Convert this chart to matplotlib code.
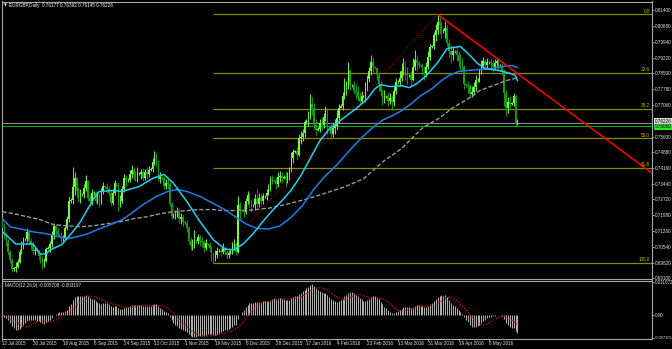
import numpy as np
import pandas as pd
import matplotlib
matplotlib.use("Agg")
import matplotlib.pyplot as plt
import matplotlib.transforms as mtransforms

# EURGBP daily bars, 12 Jul 2015 .. 25 May 2016 (one row per week, Sunday bars included).
closes = [
  0.7150, 0.7105, 0.7075, 0.7030, 0.6995, 0.6950,
  0.6955, 0.6960, 0.6985, 0.7030, 0.7060, 0.7085,
  0.7090, 0.7120, 0.7080, 0.7065, 0.7035, 0.7040,
  0.7035, 0.7010, 0.7000, 0.6970, 0.6990, 0.7045,
  0.7050, 0.7065, 0.7110, 0.7150, 0.7125, 0.7115,
  0.7110, 0.7090, 0.7095, 0.7140, 0.7180, 0.7265,
  0.7270, 0.7330, 0.7370, 0.7310, 0.7285, 0.7290,
  0.7295, 0.7325, 0.7355, 0.7280, 0.7265, 0.7300,
  0.7300, 0.7265, 0.7290, 0.7260, 0.7310, 0.7335,
  0.7330, 0.7320, 0.7300, 0.7255, 0.7300, 0.7345,
  0.7340, 0.7255, 0.7265, 0.7320, 0.7370, 0.7360,
  0.7360, 0.7390, 0.7405, 0.7385, 0.7380, 0.7390,
  0.7390, 0.7395, 0.7370, 0.7395, 0.7390, 0.7405,
  0.7410, 0.7445, 0.7475, 0.7440, 0.7365, 0.7375,
  0.7370, 0.7335, 0.7345, 0.7340, 0.7250, 0.7195,
  0.7200, 0.7205, 0.7215, 0.7180, 0.7190, 0.7170,
  0.7165, 0.7140, 0.7080, 0.7060, 0.7065, 0.7085,
  0.7080, 0.7100, 0.7080, 0.7075, 0.7050, 0.7070,
  0.7065, 0.7050, 0.7020, 0.7000, 0.7015, 0.7035,
  0.7035, 0.7030, 0.7050, 0.7030, 0.7015, 0.7025,
  0.7030, 0.7060, 0.7065, 0.7030, 0.7245, 0.7225,
  0.7220, 0.7215, 0.7265, 0.7290, 0.7260, 0.7240,
  0.7245, 0.7275, 0.7250, 0.7280, 0.7265, 0.7285,
  0.7285, 0.7300, 0.7320, 0.7365, 0.7360, 0.7358,
  0.7340, 0.7375, 0.7380, 0.7370,
  0.7375, 0.7365, 0.7375, 0.7405, 0.7460, 0.7490,
  0.7492, 0.7475, 0.7555, 0.7560, 0.7575, 0.7625,
  0.7630, 0.7650, 0.7710, 0.7690, 0.7615, 0.7590,
  0.7595, 0.7620, 0.7615, 0.7650, 0.7680, 0.7605,
  0.7600, 0.7570, 0.7600, 0.7610, 0.7645, 0.7690,
  0.7700, 0.7745, 0.7790, 0.7790, 0.7860, 0.7795,
  0.7795, 0.7770, 0.7765, 0.7740, 0.7725, 0.7745,
  0.7745, 0.7790, 0.7825, 0.7860, 0.7900, 0.7880,
  0.7875, 0.7840, 0.7800, 0.7765, 0.7730, 0.7745,
  0.7745, 0.7725, 0.7735, 0.7720, 0.7770, 0.7810,
  0.7810, 0.7830, 0.7860, 0.7880, 0.7850, 0.7840,
  0.7840, 0.7820, 0.7880, 0.7910, 0.7895, 0.7890,
  0.7885, 0.7860, 0.7850, 0.7880, 0.7925, 0.7970,
  0.7975, 0.8025, 0.8050, 0.8085, 0.8070, 0.8045,
  0.8045, 0.8060, 0.7990, 0.7950, 0.7935, 0.7950,
  0.7950, 0.7935, 0.7905, 0.7895, 0.7880, 0.7800,
  0.7795, 0.7790, 0.7755, 0.7765, 0.7785, 0.7820,
  0.7820, 0.7860, 0.7885, 0.7905, 0.7890, 0.7900,
  0.7900, 0.7895, 0.7880, 0.7895, 0.7905, 0.7885,
  0.7885, 0.7860, 0.7760, 0.7690, 0.7720, 0.7710,
  0.7712, 0.7745, 0.76177, 0.76226]

highs = [
  0.7185, 0.7165, 0.7120, 0.7090, 0.7040, 0.7005,
  0.6962, 0.6985, 0.7000, 0.7045, 0.7080, 0.7100,
  0.7095, 0.7140, 0.7125, 0.7095, 0.7075, 0.7060,
  0.7042, 0.7040, 0.7025, 0.7010, 0.7005, 0.7055,
  0.7058, 0.7080, 0.7125, 0.7165, 0.7160, 0.7140,
  0.7118, 0.7120, 0.7110, 0.7150, 0.7195, 0.7285,
  0.7280, 0.7418, 0.7395, 0.7375, 0.7330, 0.7320,
  0.7300, 0.7340, 0.7385, 0.7360, 0.7295, 0.7320,
  0.7308, 0.7310, 0.7305, 0.7300, 0.7325, 0.7350,
  0.7338, 0.7345, 0.7335, 0.7310, 0.7320, 0.7360,
  0.7348, 0.7350, 0.7290, 0.7335, 0.7390, 0.7385,
  0.7368, 0.7405, 0.7430, 0.7420, 0.7400, 0.7420,
  0.7398, 0.7410, 0.7415, 0.7410, 0.7420, 0.7425,
  0.7418, 0.7460, 0.7495, 0.7485, 0.7450, 0.7395,
  0.7378, 0.7380, 0.7365, 0.7365, 0.7350, 0.7260,
  0.7208, 0.7225, 0.7235, 0.7230, 0.7210, 0.7205,
  0.7175, 0.7175, 0.7150, 0.7100, 0.7090, 0.7130,
  0.7088, 0.7115, 0.7110, 0.7100, 0.7085, 0.7090,
  0.7072, 0.7075, 0.7060, 0.7030, 0.7040, 0.7055,
  0.7042, 0.7050, 0.7070, 0.7060, 0.7040, 0.7040,
  0.7038, 0.7075, 0.7090, 0.7075, 0.7285, 0.7260,
  0.7228, 0.7250, 0.7280, 0.7310, 0.7300, 0.7275,
  0.7252, 0.7295, 0.7320, 0.7300, 0.7300, 0.7300,
  0.7292, 0.7320, 0.7340, 0.7380, 0.7385, 0.7365,
  0.7375, 0.7395, 0.7400, 0.7395,
  0.7382, 0.7400, 0.7395, 0.7420, 0.7490, 0.7505,
  0.7500, 0.7510, 0.7570, 0.7585, 0.7595, 0.7635,
  0.7640, 0.7675, 0.7755, 0.7740, 0.7715, 0.7640,
  0.7602, 0.7640, 0.7650, 0.7670, 0.7700, 0.7690,
  0.7608, 0.7620, 0.7620, 0.7640, 0.7680, 0.7710,
  0.7710, 0.7765, 0.7830, 0.7815, 0.7900, 0.7870,
  0.7802, 0.7815, 0.7800, 0.7790, 0.7765, 0.7770,
  0.7752, 0.7810, 0.7840, 0.7880, 0.7932, 0.7925,
  0.7882, 0.7880, 0.7855, 0.7815, 0.7780, 0.7775,
  0.7752, 0.7765, 0.7760, 0.7750, 0.7790, 0.7830,
  0.7818, 0.7860, 0.7895, 0.7920, 0.7905, 0.7880,
  0.7848, 0.7860, 0.7920, 0.7955, 0.7935, 0.7905,
  0.7892, 0.7895, 0.7885, 0.7900, 0.7950, 0.7985,
  0.7982, 0.8040, 0.8075, 0.8120, 0.8110, 0.8085,
  0.8052, 0.8090, 0.8070, 0.8005, 0.7985, 0.7975,
  0.7958, 0.7975, 0.7950, 0.7940, 0.7920, 0.7890,
  0.7802, 0.7815, 0.7800, 0.7790, 0.7810, 0.7840,
  0.7828, 0.7875, 0.7910, 0.7925, 0.7915, 0.7920,
  0.7908, 0.7920, 0.7910, 0.7915, 0.7925, 0.7915,
  0.7892, 0.7895, 0.7870, 0.7775, 0.7740, 0.7745,
  0.7720, 0.7760, 0.7750, 0.76392]

lows = [
  0.7140, 0.7090, 0.7060, 0.7015, 0.6980, 0.6940,
  0.6945, 0.6938, 0.6955, 0.6980, 0.7020, 0.7045,
  0.7080, 0.7075, 0.7065, 0.7040, 0.7020, 0.7015,
  0.7030, 0.6995, 0.6980, 0.6950, 0.6960, 0.6985,
  0.7042, 0.7030, 0.7055, 0.7090, 0.7110, 0.7100,
  0.7105, 0.7075, 0.7070, 0.7085, 0.7130, 0.7170,
  0.7255, 0.7250, 0.7290, 0.7280, 0.7260, 0.7255,
  0.7285, 0.7280, 0.7310, 0.7265, 0.7240, 0.7245,
  0.7292, 0.7255, 0.7250, 0.7235, 0.7250, 0.7295,
  0.7322, 0.7300, 0.7285, 0.7240, 0.7245, 0.7290,
  0.7330, 0.7218, 0.7235, 0.7255, 0.7305, 0.7335,
  0.7350, 0.7350, 0.7370, 0.7360, 0.7355, 0.7350,
  0.7382, 0.7365, 0.7355, 0.7360, 0.7365, 0.7375,
  0.7400, 0.7395, 0.7430, 0.7420, 0.7355, 0.7345,
  0.7362, 0.7320, 0.7320, 0.7320, 0.7240, 0.7180,
  0.7188, 0.7180, 0.7190, 0.7165, 0.7160, 0.7150,
  0.7155, 0.7120, 0.7065, 0.7040, 0.7040, 0.7050,
  0.7072, 0.7065, 0.7060, 0.7055, 0.7030, 0.7040,
  0.7058, 0.7030, 0.6990, 0.6982, 0.6990, 0.7005,
  0.7028, 0.7010, 0.7020, 0.7015, 0.7000, 0.7005,
  0.7022, 0.7020, 0.7040, 0.7015, 0.7025, 0.7180,
  0.7212, 0.7190, 0.7205, 0.7250, 0.7235, 0.7215,
  0.7238, 0.7225, 0.7235, 0.7235, 0.7245, 0.7250,
  0.7278, 0.7270, 0.7290, 0.7310, 0.7340, 0.7350,
  0.7320, 0.7330, 0.7350, 0.7345,
  0.7365, 0.7330, 0.7345, 0.7360, 0.7395, 0.7440,
  0.7484, 0.7450, 0.7470, 0.7525, 0.7540, 0.7560,
  0.7618, 0.7610, 0.7640, 0.7660, 0.7595, 0.7565,
  0.7585, 0.7580, 0.7590, 0.7600, 0.7630, 0.7570,
  0.7592, 0.7550, 0.7560, 0.7570, 0.7590, 0.7620,
  0.7690, 0.7680, 0.7730, 0.7750, 0.7780, 0.7775,
  0.7788, 0.7755, 0.7730, 0.7725, 0.7712, 0.7715,
  0.7738, 0.7720, 0.7770, 0.7810, 0.7840, 0.7855,
  0.7868, 0.7820, 0.7770, 0.7745, 0.7705, 0.7715,
  0.7738, 0.7700, 0.7710, 0.7680, 0.7700, 0.7755,
  0.7800, 0.7790, 0.7815, 0.7840, 0.7820, 0.7800,
  0.7832, 0.7790, 0.7815, 0.7865, 0.7860, 0.7875,
  0.7878, 0.7840, 0.7820, 0.7835, 0.7870, 0.7910,
  0.7965, 0.7960, 0.8000, 0.8030, 0.8030, 0.8010,
  0.8035, 0.8010, 0.7975, 0.7920, 0.7895, 0.7910,
  0.7942, 0.7905, 0.7880, 0.7860, 0.7860, 0.7780,
  0.7788, 0.7760, 0.7738, 0.7740, 0.7750, 0.7770,
  0.7812, 0.7810, 0.7845, 0.7870, 0.7865, 0.7875,
  0.7892, 0.7870, 0.7855, 0.7865, 0.7880, 0.7860,
  0.7878, 0.7840, 0.7700, 0.7655, 0.7670, 0.7690,
  0.7705, 0.7700, 0.7610, 0.76145]

first_open = 0.7175

# Moving averages (bar index, price).
fast_ma_bars = [0, 7, 16, 20, 23, 25, 31, 37, 41, 45, 48, 51, 58, 63, 72, 79, 85, 90,
                97, 104, 111, 117, 122, 127, 132, 137, 142, 147, 152, 157, 162, 167,
                172, 178, 186, 192, 196, 199, 204, 210, 214, 218, 223, 229, 234, 238,
                241, 246, 250, 254, 261, 266, 270, 271]
fast_ma_vals = [0.7123, 0.7067, 0.7067, 0.7021, 0.7021, 0.7040, 0.7063, 0.7123, 0.7169,
                0.7229, 0.7275, 0.7308, 0.7312, 0.7308, 0.7331, 0.7368, 0.7386, 0.7345,
                0.7262, 0.7169, 0.7086, 0.7044, 0.7040, 0.7070, 0.7115, 0.7170, 0.7220,
                0.7265, 0.7315, 0.7380, 0.7460, 0.7540, 0.7595, 0.7635, 0.7687, 0.7733,
                0.7779, 0.7798, 0.7789, 0.7793, 0.7784, 0.7802, 0.7839, 0.7899, 0.7964,
                0.7969, 0.7973, 0.7932, 0.7895, 0.7872, 0.7863, 0.7853, 0.7840, 0.7816]

mid_ma_bars = [0, 4, 9, 16, 23, 30, 34, 39, 45, 51, 58, 63, 69, 74, 81, 87, 92, 97, 104,
               111, 117, 122, 128, 134, 140, 146, 152, 158, 164, 170, 176, 182, 188, 194,
               200, 205, 210, 215, 220, 226, 231, 235, 240, 245, 251, 258, 263, 268, 271]
mid_ma_vals = [0.7183, 0.7146, 0.7137, 0.7123, 0.7114, 0.7100, 0.7091, 0.7100, 0.7114,
               0.7137, 0.7160, 0.7178, 0.7215, 0.7248, 0.7285, 0.7308, 0.7317, 0.7308,
               0.7285, 0.7252, 0.7225, 0.7195, 0.7160, 0.7138, 0.7136, 0.7150, 0.7190,
               0.7245, 0.7320, 0.7380, 0.7430, 0.7490, 0.7545, 0.7595, 0.7635, 0.7655,
               0.7678, 0.7710, 0.7747, 0.7779, 0.7816, 0.7840, 0.7858, 0.7863, 0.7867,
               0.7872, 0.7881, 0.7886, 0.7876]

slow_ma_bars = [0, 6, 13, 20, 27, 34, 41, 48, 55, 62, 69, 76, 83, 90, 97, 104, 111, 117,
                130, 140, 150, 160, 170, 180, 190, 200, 210, 221, 230, 237, 245, 251,
                258, 265, 271]
slow_ma_vals = [0.7215, 0.7206, 0.7192, 0.7178, 0.7155, 0.7151, 0.7146, 0.7151, 0.7160,
                0.7169, 0.7183, 0.7192, 0.7206, 0.7215, 0.7220, 0.7225, 0.7225, 0.7220,
                0.7222, 0.7231, 0.7250, 0.7273, 0.7300, 0.7329, 0.7366, 0.7443, 0.7505,
                0.7599, 0.7645, 0.7692, 0.7733, 0.7770, 0.7793, 0.7816, 0.7830]

# Fibonacci retracement (low bar/price, high bar/price) and the red trend line.
fib_low_bar, fib_low = 111, 0.6982
fib_high_bar, fib_high = 229, 0.8120
fib_ratios = [0.0, 0.236, 0.382, 0.5, 0.618, 1.0]
fib_labels = ['0.0', '23.6', '38.2', '50.0', '61.8', '100.0']
trend_bars = [229, 342]
trend_prices = [0.8120, 0.7391]

bid_price = 0.76226
hline_price = 0.76060

price_ticks = [0.81400, 0.80680, 0.79940, 0.79220, 0.78500, 0.77780, 0.77060,
               0.75600, 0.74880, 0.74160, 0.73440, 0.72720, 0.71980, 0.71260,
               0.70540, 0.69820, 0.69100]
macd_ticks = [0.011072, 0.0, -0.007355]
macd_tick_labels = ['0.011072', '0.00', '-0.007355']
date_labels = ['12 Jul 2015', '30 Jul 2015', '18 Aug 2015', '6 Sep 2015', '24 Sep 2015',
               '13 Oct 2015', '1 Nov 2015', '19 Nov 2015', '8 Dec 2015', '28 Dec 2015',
               '17 Jan 2016', '4 Feb 2016', '23 Feb 2016', '13 Mar 2016', '31 Mar 2016',
               '19 Apr 2016', '8 May 2016']
date_step = 16

# Figure layout, in pixels.
W, H = 672, 349
textColor = '#e6e6e6'
frameColor = '#a8a8a8'
fontSize = 3.3
plt.rcParams['font.family'] = ['Liberation Sans', 'DejaVu Sans']

fig = plt.figure(figsize=(W / 100, H / 100), dpi=100, facecolor='black')

def PixelBox(x0, y0, x1, y1):
  return [x0 / W, 1 - y1 / H, (x1 - x0) / W, (y1 - y0) / H]

ax = fig.add_axes(PixelBox(2, 1.5, 652, 278.5), facecolor='black')
mx = fig.add_axes(PixelBox(2, 280.5, 652, 338.5), facecolor='black')

xmin, xmax = -0.26, 341.84
for a in (ax, mx):
  a.set_xlim(xmin, xmax)
  for s in a.spines.values():
    s.set_color(frameColor)
    s.set_linewidth(0.8)
ax.set_ylim(0.69087, 0.81793)
mx.set_ylim(-0.007602, 0.011568)

# Candles.
bars = np.arange(len(closes))
c = np.array(closes)
o = np.r_[first_open, c[:-1]]
hi = np.maximum(np.array(highs), np.maximum(o, c))
lo = np.minimum(np.array(lows), np.minimum(o, c))
up = c >= o
candleColors = np.where(up, '#70ff40', '#10a010')
ax.vlines(bars, lo, hi, colors=candleColors, lw=0.65, zorder=3)
body = np.maximum(np.abs(c - o), 0.00015)
ax.bar(bars, body, bottom=np.minimum(o, c), width=0.8, color=candleColors,
       linewidth=0, zorder=3)

# Moving averages.
ax.plot(slow_ma_bars, slow_ma_vals, color='#9a9a9a', lw=1.0, dashes=(3, 1.5), zorder=4)
ax.plot(mid_ma_bars, mid_ma_vals, color='#1e7ee6', lw=1.1, zorder=4)
ax.plot(fast_ma_bars, fast_ma_vals, color='#1ed2f0', lw=1.1, zorder=4)

# Fibonacci levels.
for r, lab in zip(fib_ratios, fib_labels):
  level = fib_high - r * (fib_high - fib_low)
  ax.hlines(level, fib_low_bar, xmax, color='#8a8a00', lw=0.9, zorder=2)
  ax.text(xmax - 1.0, level + 0.0004, lab, ha='right', va='bottom',
          fontsize=fontSize, color='#c8c800', zorder=6)
ax.plot([fib_low_bar, fib_high_bar], [fib_low, fib_high], color='#9a0000',
        lw=0.8, ls=(0, (1, 1.5)), zorder=2)

# Trend line.
ax.plot(trend_bars, trend_prices, color='#ff0000', lw=1.1, zorder=5, clip_on=True)

# Bid line and horizontal line.
ax.axhline(bid_price, color='#8c8c98', lw=0.8, zorder=2)
ax.axhline(hline_price, color='#00b000', lw=0.8, zorder=2)
trans = mtransforms.blended_transform_factory(ax.transAxes, ax.transData)
ax.text(1.004, bid_price + 0.0006, '%.5f' % bid_price, transform=trans, fontsize=fontSize,
        color='black', va='center', ha='left', clip_on=False,
        bbox=dict(fc='#d8d8d8', ec='none', pad=0.6))
ax.text(1.004, hline_price - 0.0002, '%.5f' % hline_price, transform=trans,
        fontsize=fontSize, color='black', va='center', ha='left', clip_on=False,
        bbox=dict(fc='#30e030', ec='none', pad=0.6))

# Price axis.
ax.yaxis.tick_right()
ax.set_yticks(price_ticks)
ax.set_yticklabels(['%.5f' % p for p in price_ticks])
ax.set_xticks([])
ax.tick_params(axis='y', colors=frameColor, labelcolor=textColor, labelsize=fontSize,
               length=1.4, width=0.6, pad=0.8)

# MACD(12,26,9) as drawn by the terminal: main histogram plus SMA signal.
s = pd.Series(c)
macd = s.ewm(span=12, adjust=False).mean() - s.ewm(span=26, adjust=False).mean()
signal = macd.rolling(9, min_periods=1).mean()
mx.vlines(bars, 0, macd.values, color='#b4b4b4', lw=0.7, zorder=3)
mx.plot(bars, signal.values, color='#e01010', lw=0.9, ls=(0, (1, 1.3)), zorder=4)

mx.yaxis.tick_right()
mx.set_yticks(macd_ticks)
mx.set_yticklabels(macd_tick_labels)
mx.set_xticks(np.arange(len(date_labels)) * date_step)
mx.set_xticklabels(date_labels)
for t in mx.get_xticklabels():
  t.set_horizontalalignment('left')
mx.tick_params(axis='both', colors=frameColor, labelcolor=textColor, labelsize=fontSize,
               length=1.4, width=0.6, pad=0.6)
# The lowest MACD label runs to the window edge; keep it inside.
mx.get_yticklabels()[-1].set_fontsize(2.9)

# Window captions.
fig.text(4 / W, 1 - 5.5 / H, '\u25bc', fontsize=2.6, color='white', va='center',
         family='DejaVu Sans')
fig.text(9 / W, 1 - 5.5 / H, 'EURGBP,Daily  0.76177 0.76392 0.76145 0.76226',
         fontsize=fontSize, color='white', va='center')
fig.text(5 / W, 1 - 285 / H, 'MACD(12,26,9) -0.005708 -0.003197', fontsize=fontSize,
         color=textColor, va='center')

fig.savefig('out.png', dpi=100, facecolor=fig.get_facecolor())
